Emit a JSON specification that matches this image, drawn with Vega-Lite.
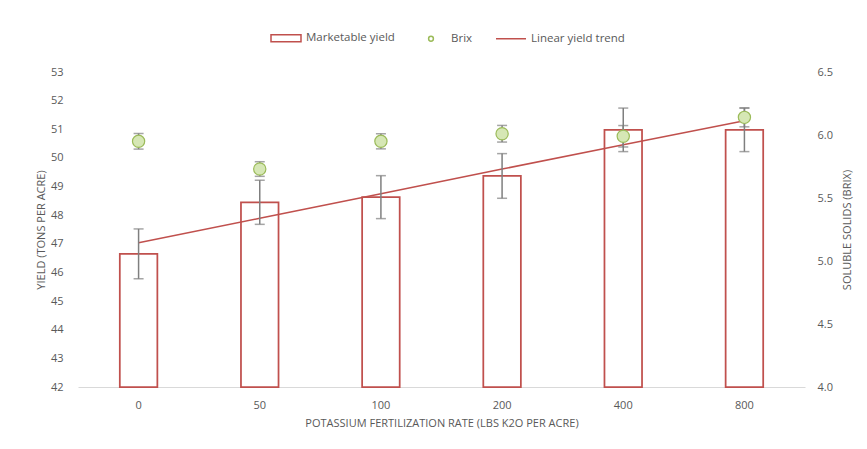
{
  "$schema": "https://vega.github.io/schema/vega-lite/v6.json",
  "autosize": {"type": "none"},
  "padding": {"left": 78, "top": 72, "right": 62, "bottom": 62},
  "width": 727,
  "height": 315,
  "background": "white",
  "data": {
    "values": [
      {"rate": "0", "yield": 46.65, "yerr": 0.87, "brix": 5.95, "berr": 0.062, "trend": 47.04},
      {"rate": "50", "yield": 48.45, "yerr": 0.77, "brix": 5.73, "berr": 0.058, "trend": 47.89},
      {"rate": "100", "yield": 48.63, "yerr": 0.75, "brix": 5.95, "berr": 0.06, "trend": 48.75},
      {"rate": "200", "yield": 49.37, "yerr": 0.78, "brix": 6.01, "berr": 0.066, "trend": 49.61},
      {"rate": "400", "yield": 50.98, "yerr": 0.76, "brix": 5.99, "berr": 0.085, "trend": 50.46},
      {"rate": "800", "yield": 50.98, "yerr": 0.76, "brix": 6.14, "berr": 0.075, "trend": 51.3}
    ]
  },
  "layer": [
    {
      "layer": [
        {
          "mark": {"type": "bar", "fill": "white", "stroke": "#c0504d", "strokeWidth": 1.75, "width": {"band": 0.31}},
          "encoding": {
            "x": {"field": "rate", "type": "ordinal", "sort": ["0", "50", "100", "200", "400", "800"], "title": "POTASSIUM FERTILIZATION RATE (LBS K2O PER ACRE)", "scale": {"paddingInner": 0, "paddingOuter": 0}},
            "y": {"field": "yield", "type": "quantitative", "title": "YIELD (TONS PER ACRE)",
                  "scale": {"domain": [42, 53], "zero": false, "nice": false},
                  "axis": {"values": [42, 43, 44, 45, 46, 47, 48, 49, 50, 51, 52, 53], "orient": "left"}},
            "y2": {"datum": 42}
          }
        },
        {
          "mark": {"type": "line", "color": "#c0504d", "strokeWidth": 1.5},
          "encoding": {
            "x": {"field": "rate", "type": "ordinal", "sort": ["0", "50", "100", "200", "400", "800"], "title": "POTASSIUM FERTILIZATION RATE (LBS K2O PER ACRE)"},
            "y": {"field": "trend", "type": "quantitative", "title": "YIELD (TONS PER ACRE)",
                  "axis": {"values": [42, 43, 44, 45, 46, 47, 48, 49, 50, 51, 52, 53], "orient": "left"}}
          }
        },
        {
          "mark": {"type": "errorbar", "color": "#7f7f7f", "rule": {"strokeWidth": 1.5}, "ticks": {"size": 10, "thickness": 1.5, "color": "#7f7f7f"}},
          "encoding": {
            "x": {"field": "rate", "type": "ordinal", "sort": ["0", "50", "100", "200", "400", "800"], "title": "POTASSIUM FERTILIZATION RATE (LBS K2O PER ACRE)"},
            "y": {"field": "yield", "type": "quantitative", "title": "YIELD (TONS PER ACRE)",
                  "axis": {"values": [42, 43, 44, 45, 46, 47, 48, 49, 50, 51, 52, 53], "orient": "left"}},
            "yError": {"field": "yerr"}
          }
        },
        {
          "data": {"values": [
            {"series": "Marketable yield", "nv": null},
            {"series": "Brix", "nv": null},
            {"series": "Linear yield trend", "nv": null}
          ]},
          "mark": {"type": "point"},
          "encoding": {
            "y": {"field": "nv", "type": "quantitative", "title": "YIELD (TONS PER ACRE)",
                  "axis": {"values": [42, 43, 44, 45, 46, 47, 48, 49, 50, 51, 52, 53], "orient": "left"}},
            "shape": {
              "field": "series", "type": "nominal",
              "scale": {
                "domain": ["Marketable yield", "Brix", "Linear yield trend"],
                "range": ["M-1,-0.23H1V0.23H-1Z", "M0,-0.16A0.16,0.16 0 1,1 0,0.16A0.16,0.16 0 1,1 0,-0.16Z", "stroke"]
              },
              "legend": {
                "title": null, "orient": "none", "direction": "horizontal",
                "legendX": 192, "legendY": -50,
                "symbolSize": 900, "symbolStrokeWidth": 1.5, "symbolFillColor": "white", "symbolOpacity": 1,
                "labelOffset": 4, "columnPadding": 20,
                "labelFont": "Open Sans", "labelFontSize": 11.5, "labelColor": "#595959", "padding": 0
              }
            },
            "stroke": {
              "field": "series", "type": "nominal",
              "scale": {
                "domain": ["Marketable yield", "Brix", "Linear yield trend"],
                "range": ["#c0504d", "#9bbb59", "#c0504d"]
              },
              "legend": {
                "title": null, "orient": "none", "direction": "horizontal",
                "legendX": 192, "legendY": -50,
                "symbolSize": 900, "symbolStrokeWidth": 1.5, "symbolFillColor": "white", "symbolOpacity": 1,
                "labelOffset": 4, "columnPadding": 20,
                "labelFont": "Open Sans", "labelFontSize": 11.5, "labelColor": "#595959", "padding": 0
              }
            }
          }
        }
      ]
    },
    {
      "layer": [
        {
          "mark": {"type": "errorbar", "color": "#7f7f7f", "rule": {"strokeWidth": 1.5}, "ticks": {"size": 10, "thickness": 1.5, "color": "#7f7f7f"}},
          "encoding": {
            "x": {"field": "rate", "type": "ordinal", "sort": ["0", "50", "100", "200", "400", "800"], "title": "POTASSIUM FERTILIZATION RATE (LBS K2O PER ACRE)"},
            "y": {"field": "brix", "type": "quantitative", "title": "SOLUBLE SOLIDS (BRIX)",
                  "scale": {"domain": [4, 6.5], "zero": false, "nice": false},
                  "axis": {"orient": "right", "values": [4, 4.5, 5, 5.5, 6, 6.5], "format": ".1f"}},
            "yError": {"field": "berr"}
          }
        },
        {
          "mark": {"type": "point", "shape": "circle", "filled": true, "fill": "#d6e7b5", "stroke": "#9bbb59", "strokeWidth": 1.2, "size": 150, "opacity": 1},
          "encoding": {
            "x": {"field": "rate", "type": "ordinal", "sort": ["0", "50", "100", "200", "400", "800"], "title": "POTASSIUM FERTILIZATION RATE (LBS K2O PER ACRE)"},
            "y": {"field": "brix", "type": "quantitative", "title": "SOLUBLE SOLIDS (BRIX)",
                  "axis": {"orient": "right", "values": [4, 4.5, 5, 5.5, 6, 6.5], "format": ".1f"}}
          }
        }
      ]
    }
  ],
  "resolve": {"scale": {"y": "independent"}},
  "config": {
    "view": {"stroke": null},
    "axis": {
      "labelFont": "Open Sans", "labelFontSize": 11, "labelColor": "#595959",
      "titleFont": "Open Sans", "titleFontSize": 11, "titleFontWeight": "normal", "titleColor": "#595959",
      "ticks": false, "grid": false, "domain": false
    },
    "axisX": {"domain": true, "domainColor": "#d9d9d9", "domainWidth": 1, "labelAngle": 0, "labelPadding": 12, "titlePadding": 7},
    "axisLeft": {"labelPadding": 15, "titlePadding": 4},
    "axisRight": {"labelPadding": 12, "titlePadding": 9, "titleAngle": 270, "titleBaseline": "top"}
  }
}
